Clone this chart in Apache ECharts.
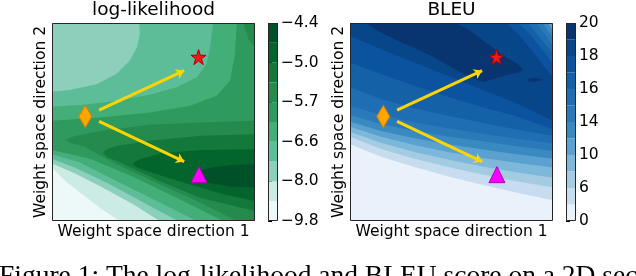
<!DOCTYPE html>
<html>
<head>
<meta charset="utf-8">
<script src="https://cdn.jsdelivr.net/npm/echarts@6/dist/echarts.min.js"></script>
<style>
html,body{margin:0;padding:0;background:#fff;overflow:hidden;}
#chart{width:636px;height:276px;}
</style>
</head>
<body>
<div id="chart"></div>
<script>
// ---------- data ----------
// colour bands (lowest -> highest)
const llColors = ['#edf8f9','#cdebe5','#8ccfba','#5ebd99','#44ae78','#2f9a5d','#248b4c','#13793b','#04652c','#00502a'];
const bleuColors = ['#e9f2fa','#c8dcf0','#a3cce3','#7db8da','#5aa1cf','#3a8ac2','#2a7ab9','#1f6db2','#1461a8','#0b539e','#08468a','#08346f'];
const llTicks = ['\u22129.8','\u22128.0','\u22126.6','\u22125.7','\u22125.0','\u22124.4'];
const bleuTicks = ['0','6','10','14','16','18','20'];

// log-likelihood: super-level regions (band index, outline in weight-space coords 0..100)
const llBase = [[0,0],[100,0],[100,100],[0,100]];
const llS1 = [[0,100],[100,100],[100,0],[33.4,0],[23.5,6.7],[15.3,13.2],[7.1,19.7],[0,27]];
const llS2 = [[0,100],[100,100],[100,0],[53.1,0],[40,8.4],[23.5,17.7],[10.4,24.5],[0,29]];
const llS3 = [[42.9,100],[100,100],[100,0],[62.2,0],[48.2,7.6],[28.5,18.5],[12,26.6],[0,31.4],[0,65.3],[8.7,66.1],[21.9,69.1],[31.7,74.2],[38.3,80.9],[41.9,87.7],[43.3,94.4]];
const llS4 = [[79.3,100],[100,100],[100,0],[71.2,0],[54.8,8.4],[31.7,20.2],[13.7,29.5],[0,33.7],[0,57.7],[15.3,58.7],[31.7,60.7],[48.2,63.7],[61.3,67.5],[71.2,72.5],[76.2,79.3],[78.1,89.4]];
const llS5 = [[91,100],[100,100],[100,0],[84.4,0],[64.6,10.1],[40,22.3],[18.6,31.4],[0,35.8],[0,50.6],[23.5,52.3],[48.2,54.8],[67.9,58.2],[81.1,63.2],[87.7,70.8],[90.1,84.3]];
const llS6a = [[94.2,100],[100,100],[100,87.7],[96.7,91.9]];
const llS6b = [[100,50.6],[72.9,49.7],[48.2,48.6],[23.5,45.5],[11,42.8],[7,41.2],[9,39.3],[15.3,37.9],[31.7,28.7],[53.1,18.5],[72.9,9.3],[91,0],[100,0]];
const llS7 = [[100,43.8],[72.9,43],[48.2,40.5],[31.7,37.9],[26.5,36],[25.2,34.6],[27,32.3],[33.4,29.5],[53.1,20.2],[72.9,11.8],[100,5.1]];
const llS8 = [[100,36.3],[72.9,35.8],[53.1,34.1],[43.3,31.2],[40.3,29.5],[40,28.5],[41.5,27.3],[46.5,25.3],[64.6,19.4],[84.4,13.5],[100,10.1]];
const llS9 = [[100,28.7],[87.7,28.3],[76.2,26.6],[72,25],[71.2,23.6],[72.5,21.5],[76.2,19.4],[87.7,17.4],[100,16.9]];
const llRegions = [[0,llBase],[1,llS1],[2,llS2],[3,llS3],[4,llS4],[5,llS5],[6,llS6a],[6,llS6b],[7,llS7],[8,llS8],[9,llS9]];

// BLEU: super-level regions
const bBase = [[0,0],[100,0],[100,100],[0,100]];
const bS1 = [[0,100],[100,100],[100,10.5],[81.1,14.5],[64.6,18.4],[48.2,22.6],[31.7,27.3],[15.3,32.5],[0,38.8]];
const bS2 = [[0,100],[100,100],[100,16.9],[81.1,20.2],[64.6,23.6],[48.2,27.3],[31.7,31.5],[15.3,36.4],[0,42.5]];
const bS3 = [[0,100],[100,100],[100,21.9],[81.1,24.8],[64.6,27.7],[48.2,31],[31.7,34.9],[15.3,39.5],[0,45]];
const bS4 = [[0,100],[99.2,100],[100,98.7],[100,27],[81.1,29.5],[64.6,32],[48.2,34.9],[31.7,38.4],[15.3,42.5],[0,47.6]];
const bS5 = [[0,100],[97.5,100],[98.8,97.8],[100,96.1],[100,31.5],[81.1,33.9],[64.6,36.3],[48.2,38.8],[31.7,41.8],[15.3,45.5],[0,50.1]];
const bS6 = [[0,100],[95.1,100],[97.5,96.1],[100,92.7],[100,35.4],[81.1,37.9],[64.6,40.4],[48.2,42.7],[31.7,45.5],[15.3,48.9],[0,53.5]];
const bS7 = [[0,100],[91.8,100],[95.9,94.4],[100,88.5],[100,39.1],[81.1,41.8],[64.6,44.2],[48.2,46.9],[31.7,49.7],[15.3,53.6],[0,58.2]];
const bS8 = [[0,100],[87.7,100],[93.4,92.7],[97.5,87.7],[100,84.3],[100,43],[81.1,46.4],[64.6,49.7],[48.2,53.1],[31.7,57],[15.3,61.6],[0,67.5]];
const bS9 = [[0,100],[82.7,100],[89.3,93.6],[95.1,86],[100,79.3],[100,46.4],[81.1,53.1],[64.6,57.7],[48.2,62.7],[31.7,68.3],[15.3,74.2],[0,80.1]];
const bS10 = [[0,100],[77.1,100],[84.4,92.7],[91,84.3],[95.9,77.6],[100,72.5],[100,50.6],[81.1,59.9],[64.6,66.6],[48.2,73.4],[31.7,80.1],[15.3,86.8],[0,93.6]];
const bS11 = [[7.7,100],[52.1,100],[58.1,97],[65.6,91.1],[77.1,82.6],[83,79],[85.4,76.2],[83,75],[78.8,74.2],[70.6,71.7],[65.6,70.3],[59.7,72.2],[53.1,75.9],[40,83.5],[23.5,91.1],[13.7,96.1]];
const bS11b = [[87.8,71.7],[91,72.3],[95.2,71.2],[91,70.2],[87.8,70.5]];
const bleuRegions = [[0,bBase],[1,bS1],[2,bS2],[3,bS3],[4,bS4],[5,bS5],[6,bS6],[7,bS7],[8,bS8],[9,bS9],[10,bS10],[11,bS11],[11,bS11b]];

// markers and arrows (weight-space coords)
const startPt = [16.4, 52.8];
const starPt = [72.2, 82.8];
const triPt = [72.4, 23.4];
const arrowUp = [[23.2, 56.0], [65.1, 75.9]];
const arrowDown = [[23.2, 50.3], [65.1, 30.0]];

const caption = 'Figure 1: The log-likelihood and BLEU score on a 2D sec';

// ---------- chart ----------
const FONT = 'DejaVu Sans';
const starPath = 'path://M50,0 L61.8,35.3 L98.9,35.3 L69,57.3 L80.4,92.7 L50,70.9 L19.6,92.7 L31,57.3 L1.1,35.3 L38.2,35.3 Z';

function regionSeries(regions, colors, gi) {
  return {
    type: 'custom', xAxisIndex: gi, yAxisIndex: gi, z: 1, silent: true,
    data: regions.map((r, i) => [i]),
    renderItem: function (params, api) {
      const r = regions[params.dataIndex];
      return { type: 'polygon', shape: { points: r[1].map(p => api.coord(p)) },
               style: { fill: colors[r[0]], stroke: null } };
    }
  };
}
function frameSeries(gi) {
  return {
    type: 'custom', xAxisIndex: gi, yAxisIndex: gi, z: 10, silent: true, data: [[0]],
    renderItem: function (params) {
      const c = params.coordSys;
      return { type: 'rect', shape: { x: c.x + 0.5, y: c.y + 0.5, width: c.width - 1, height: c.height - 1 },
               style: { fill: 'none', stroke: '#262626', lineWidth: 1 } };
    }
  };
}
function cbarSeries(colors, gi) {
  return {
    type: 'custom', xAxisIndex: gi, yAxisIndex: gi, z: 1, silent: true,
    data: colors.map((c, i) => [i]),
    renderItem: function (params, api) {
      const i = params.dataIndex;
      const p0 = api.coord([0, i]), p1 = api.coord([1, i + 1]);
      return { type: 'rect', shape: { x: p0[0], y: p1[1], width: p1[0] - p0[0], height: p0[1] - p1[1] },
               style: { fill: colors[i] } };
    }
  };
}
function arrowSeries(gi) {
  return {
    type: 'lines', coordinateSystem: 'cartesian2d', xAxisIndex: gi, yAxisIndex: gi, z: 3, silent: true,
    symbol: ['none', 'arrow'], symbolSize: 8,
    lineStyle: { color: '#ffd400', width: 3, opacity: 1, curveness: 0 },
    data: [{ coords: arrowUp }, { coords: arrowDown }]
  };
}
function markerSeries(gi) {
  return {
    type: 'scatter', xAxisIndex: gi, yAxisIndex: gi, z: 4, silent: true,
    data: [
      { value: startPt, symbol: 'diamond', symbolSize: [13, 22], itemStyle: { color: '#ffa500', borderColor: '#e07d00', borderWidth: 1, opacity: 1 } },
      { value: starPt, symbol: starPath, symbolSize: 15, itemStyle: { color: '#f01818', borderColor: '#b00000', borderWidth: 1, opacity: 1 } },
      { value: triPt, symbol: 'triangle', symbolSize: [16, 16], itemStyle: { color: '#ff00ff', borderColor: '#b000b8', borderWidth: 1, opacity: 1 } }
    ]
  };
}
const nameStyle = { fontSize: 15.5, color: '#000', fontFamily: FONT };
function plotX(gi) {
  return { gridIndex: gi, type: 'value', min: 0, max: 100, name: 'Weight space direction 1',
    nameLocation: 'middle', nameGap: 3, nameTextStyle: nameStyle,
    axisLine: { show: false }, axisTick: { show: false }, axisLabel: { show: false }, splitLine: { show: false } };
}
function plotY(gi) {
  return { gridIndex: gi, type: 'value', min: 0, max: 100, name: 'Weight space direction 2',
    nameLocation: 'middle', nameGap: 3, nameTextStyle: nameStyle,
    axisLine: { show: false }, axisTick: { show: false }, axisLabel: { show: false }, splitLine: { show: false } };
}
function cbarY(gi, n, ticks) {
  return { gridIndex: gi, type: 'value', min: 0, max: n, interval: 2, position: 'right',
    axisLine: { show: false }, splitLine: { show: false },
    axisTick: { show: true, inside: false, length: 4, lineStyle: { color: '#000', width: 1 } },
    axisLabel: { formatter: v => ticks[Math.round(v / 2)], color: '#000', fontSize: 15.5, fontFamily: FONT, margin: 3 } };
}
function cbarX(gi) {
  return { gridIndex: gi, type: 'value', min: 0, max: 1, show: false };
}

const chart = echarts.init(document.getElementById('chart'), null, { renderer: 'canvas' });
chart.setOption({
  animation: false,
  backgroundColor: '#fff',
  title: [
    { text: 'log-likelihood', left: 153.5, top: 1, textAlign: 'center', padding: 0,
      textStyle: { fontSize: 18.5, fontWeight: 'normal', fontFamily: FONT, color: '#000' } },
    { text: 'BLEU', left: 451.5, top: 1, textAlign: 'center', padding: 0,
      textStyle: { fontSize: 18.5, fontWeight: 'normal', fontFamily: FONT, color: '#000' } }
  ],
  grid: [
    { left: 52, top: 23, width: 203, height: 198 },
    { left: 268, top: 23, width: 10, height: 198 },
    { left: 350, top: 23, width: 203, height: 198 },
    { left: 566, top: 23, width: 10, height: 198 }
  ],
  xAxis: [plotX(0), cbarX(1), plotX(2), cbarX(3)],
  yAxis: [plotY(0), cbarY(1, llColors.length, llTicks), plotY(2), cbarY(3, bleuColors.length, bleuTicks)],
  graphic: [
    { type: 'text', left: -1, top: 263, silent: true,
      style: { text: caption, font: '27.5px "Liberation Serif"', fill: '#000' } }
  ],
  series: [
    regionSeries(llRegions, llColors, 0), arrowSeries(0), markerSeries(0), frameSeries(0),
    cbarSeries(llColors, 1), frameSeries(1),
    regionSeries(bleuRegions, bleuColors, 2), arrowSeries(2), markerSeries(2), frameSeries(2),
    cbarSeries(bleuColors, 3), frameSeries(3)
  ]
});
</script>
</body>
</html>
